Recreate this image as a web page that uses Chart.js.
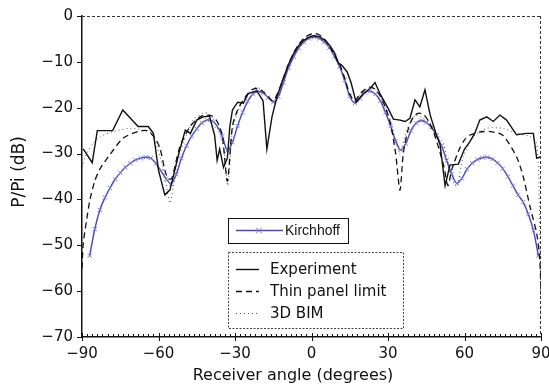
<!DOCTYPE html>
<html lang="en">
<head>
  <meta charset="UTF-8" />
  <title>Receiver angle response</title>
  <script src="https://cdn.jsdelivr.net/npm/chart.js"></script>
  <style>
    body { margin: 0; background: #fff; }
    #wrap { width: 549px; height: 387px; position: relative; }
  </style>
</head>
<body>
  <div id="wrap"><canvas id="angleChart"></canvas></div>

  <script>
    // values (angle in degrees, level in dB)
    const expAngle = [-89.5, -86, -84, -78, -74, -68, -64, -62, -60, -58, -57.5, -55.5, -52, -49.5, -47.5, -45, -42.5, -40, -38, -37, -36, -34.5, -33, -32, -31, -29, -26.7, -24.8, -21.5, -19, -17.5, -15.5, -13.5, -11, -9, -7, -5, -3, -1, 1, 3, 5, 7, 9, 10.5, 12, 14, 15.5, 17.5, 20.3, 23, 24.9, 26.9, 30, 32.1, 34.7, 36.7, 38.6, 40.6, 42.5, 44.5, 46.5, 49, 50.4, 52.4, 54.3, 57.6, 60, 62, 64, 66, 68.7, 71.3, 73.9, 76.5, 80.4, 84.4, 87, 88.3, 90];
    const expDb = [-29, -32, -25, -25, -20.5, -24.1, -24.1, -25.6, -33.6, -38, -39, -37.9, -29.9, -24.9, -25.6, -22.7, -22, -21.8, -26, -31.5, -29, -33, -31, -24, -20.5, -18.8, -19, -16.9, -16.3, -18.5, -29, -22, -17.5, -13.5, -10.5, -8.2, -6.5, -5.3, -4.6, -4.3, -4.5, -5.2, -6.3, -8, -10.2, -10.8, -12.2, -14.5, -18.8, -16.9, -15.8, -14.5, -17, -20.1, -22.5, -22.7, -23, -22.3, -18.3, -19.8, -16.1, -21.5, -26, -28, -37, -32.5, -32.3, -29, -27.5, -25.6, -22.7, -22, -23, -21.6, -22.7, -25.9, -25.6, -25.6, -31, -30.7];

    const thinAngle = [-90, -89.5, -88.2, -86.9, -85, -83, -79, -73.8, -68, -64.6, -61.5, -59.4, -57.5, -56.2, -54.8, -51.6, -47.6, -43.7, -41, -39, -37, -35, -33, -31, -29, -27, -25, -23, -21, -19, -17, -15, -13, -11, -9, -7, -5, -3, -1, 1, 3, 5, 7, 9, 11, 13, 15, 17, 19, 21, 23, 25, 27, 29, 31, 33, 34.7, 36, 38, 40, 42, 44, 46, 48, 50, 52, 53.5, 55, 58, 60, 62, 66, 70, 75, 80.4, 83, 85.7, 88.3, 89.5, 90];
    const thinDb = [-55, -49.6, -44.5, -40.1, -36, -33.4, -30.2, -26.6, -25.2, -25, -26.5, -28.9, -33.6, -35.5, -35.4, -28.5, -24.1, -22, -21.6, -21.8, -23, -26, -36, -24, -20.5, -18.5, -17, -16, -15.8, -16.5, -17.6, -18.5, -16.5, -13.5, -10.5, -8, -6.2, -4.9, -4.1, -3.8, -4.1, -5, -6.4, -8.5, -10.5, -13.5, -17, -18.5, -17, -16, -15.5, -16, -17.5, -20, -23.5, -30, -38, -30, -24.5, -22, -21.2, -21.5, -23, -25.5, -29, -33, -37, -33.5, -29, -27, -26, -25.3, -25.2, -26, -30.7, -35, -41.6, -47.4, -53, -60];

    const bimAngle = [-90, -88.8, -86, -82.9, -77.7, -71.2, -66, -62.7, -59.4, -57.5, -55.5, -53, -50.3, -46.4, -42.4, -40.5, -38.5, -36.5, -34.5, -32.8, -31, -29, -27, -25, -23, -21, -19, -17, -15, -13, -11, -9, -7, -5, -3, -1, 1, 3, 5, 7, 9, 11, 13, 15, 17, 19, 21, 23, 25, 27, 29, 31, 33, 34.7, 36.5, 38.5, 41, 43.9, 46.5, 49, 51.7, 54.3, 56.9, 59.5, 63.5, 68.7, 75.2, 80.4, 85.7, 88.3, 89.3, 90];
    const bimDb = [-33, -30.7, -28, -26.3, -25.2, -24.5, -24.9, -25.6, -30.7, -35, -40.8, -33, -27.8, -22.7, -21.2, -21.2, -22.5, -25, -29, -37, -25, -21, -18.6, -16.8, -15.8, -15.6, -16.4, -17.5, -18.5, -16.8, -13.8, -10.8, -8.3, -6.4, -5.1, -4.4, -4.2, -4.5, -5.3, -6.7, -8.7, -10.8, -13.8, -17.2, -18.6, -17.2, -16.1, -15.6, -16, -17.3, -19.7, -22.8, -27, -30, -26.5, -23.2, -21.6, -22.3, -23.4, -25.5, -27.8, -34.3, -37.2, -30.7, -26.3, -24.5, -24.5, -25.6, -26.3, -27.8, -40, -66];

    const kirAngle = [-87, -85, -83, -81, -79, -77, -75, -73, -71, -69, -67, -65, -63, -61, -59, -57, -55, -53, -51, -49, -47, -45, -43, -41, -39, -37, -35, -33, -31, -29, -27, -25, -23, -21, -19, -17, -15, -13, -11, -9, -7, -5, -3, -1, 1, 3, 5, 7, 9, 11, 13, 15, 17, 19, 21, 23, 25, 27, 29, 31, 33, 35, 37, 39, 41, 43, 45, 47, 49, 51, 53, 55, 57, 59, 61, 63, 65, 67, 69, 71, 73, 75, 77, 79, 81, 83, 85, 87, 89];
    const kirDb = [-52.3, -46.5, -42.3, -39.6, -37.5, -35.6, -34.2, -33.0, -32.1, -31.4, -31.0, -30.8, -31.0, -32.2, -33.8, -35.5, -36.6, -34.5, -31.0, -28.3, -26.2, -24.6, -23.3, -22.7, -22.9, -24.0, -26.2, -29.3, -27.5, -24.0, -21.0, -18.6, -17.0, -16.4, -16.8, -17.8, -18.8, -17.6, -14.5, -11.3, -8.9, -7.0, -5.7, -4.9, -4.6, -4.9, -5.7, -6.9, -8.8, -11.0, -14.0, -17.5, -19.0, -18.0, -16.7, -16.4, -17.0, -18.5, -21.0, -24.0, -27.3, -29.2, -27.8, -25.0, -23.4, -22.8, -23.2, -24.3, -26.0, -28.3, -31.5, -34.5, -36.5, -35.4, -33.4, -32.1, -31.3, -30.9, -30.8, -31.2, -32.0, -33.3, -35.0, -37.0, -39.0, -40.6, -43.2, -46.7, -52.3];

    const xTicks = [-90, -60, -30, 0, 30, 60, 90];
    const yTicks = [0, -10, -20, -30, -40, -50, -60, -70];
    const xTitle = "Receiver angle (degrees)";
    const yTitle = "P/Pi (dB)";

    const pts = (xs, ys) => xs.map((x, i) => ({ x: x, y: ys[i] }));
    const minus = (v) => (v < 0 ? "\u2212" + Math.abs(v) : String(v));
    const ink = "#111";
    const mainFont = "'DejaVu Sans', sans-serif";

    // frame, tick marks, axis titles and the two legend boxes
    const decor = {
      id: "decor",
      afterDraw(chart) {
        const ctx = chart.ctx;
        const xs = chart.scales.x, ys = chart.scales.y;
        const { left, right, top, bottom } = chart.chartArea;
        ctx.save();

        // dotted top / right frame (scan look)
        ctx.strokeStyle = "#333";
        ctx.lineWidth = 1;
        ctx.setLineDash([3, 2]);
        ctx.beginPath();
        ctx.moveTo(left, top + 0.5); ctx.lineTo(right, top + 0.5);
        ctx.moveTo(right - 0.5, top); ctx.lineTo(right - 0.5, bottom);
        ctx.stroke();
        ctx.setLineDash([]);

        // x minor ticks every 2 degrees, major outward
        ctx.strokeStyle = ink;
        ctx.lineWidth = 1;
        ctx.beginPath();
        for (let d = -90; d <= 90; d += 2) {
          const px = Math.round(xs.getPixelForValue(d)) + 0.5;
          ctx.moveTo(px, bottom); ctx.lineTo(px, bottom - 3);
        }
        xTicks.forEach((d) => {
          const px = Math.round(xs.getPixelForValue(d)) + 0.5;
          ctx.moveTo(px, bottom - 4); ctx.lineTo(px, bottom + 4);
        });
        yTicks.forEach((v) => {
          const py = Math.round(ys.getPixelForValue(v)) + 0.5;
          ctx.moveTo(left - 5, py); ctx.lineTo(left, py);
        });
        ctx.stroke();

        // axis titles
        ctx.fillStyle = ink;
        ctx.font = "16px " + mainFont;
        ctx.textAlign = "center";
        ctx.textBaseline = "middle";
        ctx.fillText(xTitle, 293, 376);
        ctx.save();
        ctx.translate(20, 172);
        ctx.rotate(-Math.PI / 2);
        ctx.font = "17px " + mainFont;
        ctx.fillText(yTitle, 0, 0);
        ctx.restore();

        const sets = chart.data.datasets;

        // Kirchhoff box
        ctx.fillStyle = "#fff";
        ctx.fillRect(228, 218, 120, 25);
        ctx.strokeStyle = ink;
        ctx.strokeRect(228.5, 218.5, 120, 25);
        const k = sets[3];
        ctx.strokeStyle = k.borderColor;
        ctx.lineWidth = 1.5;
        ctx.beginPath(); ctx.moveTo(236, 230.5); ctx.lineTo(283, 230.5); ctx.stroke();
        ctx.strokeStyle = k.pointBorderColor;
        ctx.lineWidth = 1;
        ctx.beginPath();
        ctx.moveTo(256, 227.5); ctx.lineTo(262, 233.5);
        ctx.moveTo(262, 227.5); ctx.lineTo(256, 233.5);
        ctx.stroke();
        ctx.fillStyle = ink;
        ctx.textAlign = "left";
        ctx.font = "14px 'Liberation Sans', Arial, sans-serif";
        ctx.fillText(k.label, 285, 231);

        // model / experiment box
        ctx.fillStyle = "#fff";
        ctx.fillRect(228, 252, 175, 76);
        ctx.strokeStyle = "#444";
        ctx.lineWidth = 1;
        ctx.setLineDash([2, 1.5]);
        ctx.strokeRect(228.5, 252.5, 175, 76);
        const rows = [269, 291, 313];
        ctx.font = "15px " + mainFont;
        [0, 1, 2].forEach((i, r) => {
          const ds = sets[i];
          ctx.strokeStyle = ds.borderColor;
          ctx.lineWidth = ds.borderWidth;
          ctx.setLineDash(ds.borderDash || []);
          ctx.beginPath();
          ctx.moveTo(236, rows[r] + 0.5); ctx.lineTo(259, rows[r] + 0.5);
          ctx.stroke();
          ctx.fillStyle = ink;
          ctx.fillText(ds.label, 270, rows[r] + 1);
        });
        ctx.restore();
      }
    };

    const ctx = document.getElementById("angleChart").getContext("2d");
    new Chart(ctx, {
      type: "line",
      data: {
        datasets: [
          {
            label: "Experiment",
            data: pts(expAngle, expDb),
            borderColor: ink,
            borderWidth: 1.4,
            pointRadius: 0,
            tension: 0
          },
          {
            label: "Thin panel limit",
            data: pts(thinAngle, thinDb),
            borderColor: ink,
            borderWidth: 1.3,
            borderDash: [6, 4],
            pointRadius: 0,
            tension: 0.25
          },
          {
            label: "3D BIM",
            data: pts(bimAngle, bimDb),
            borderColor: "#555",
            borderWidth: 1,
            borderDash: [1, 3],
            pointRadius: 0,
            tension: 0.25
          },
          {
            label: "Kirchhoff",
            data: pts(kirAngle, kirDb),
            borderColor: "#4646c4",
            borderWidth: 1.4,
            pointStyle: "crossRot",
            pointRadius: 3,
            pointBorderColor: "#7c7ce0",
            pointBorderWidth: 1,
            tension: 0.3
          }
        ]
      },
      options: {
        responsive: true,
        maintainAspectRatio: false,
        animation: false,
        layout: { padding: { top: 16, right: 8, left: 0, bottom: 0 } },
        plugins: { legend: { display: false }, tooltip: { enabled: false } },
        scales: {
          x: {
            type: "linear",
            min: -90,
            max: 90,
            afterFit: (s) => { s.height = 50; s.paddingLeft = 0; s.paddingRight = 0; },
            afterBuildTicks: (s) => { s.ticks = xTicks.map((v) => ({ value: v })); },
            ticks: {
              padding: 8,
              color: ink,
              font: { family: mainFont, size: 15 },
              maxRotation: 0,
              callback: minus
            },
            grid: { drawOnChartArea: false, drawTicks: false },
            border: { color: ink, width: 1.5 }
          },
          y: {
            min: -70,
            max: 0,
            afterFit: (s) => { s.width = 82; s.paddingTop = 0; s.paddingBottom = 0; },
            afterBuildTicks: (s) => { s.ticks = yTicks.map((v) => ({ value: v })); },
            ticks: {
              padding: 9,
              color: ink,
              font: { family: mainFont, size: 15 },
              callback: minus
            },
            grid: { drawOnChartArea: false, drawTicks: false },
            border: { color: ink, width: 1.5 }
          }
        }
      },
      plugins: [decor]
    });
  </script>
</body>
</html>
